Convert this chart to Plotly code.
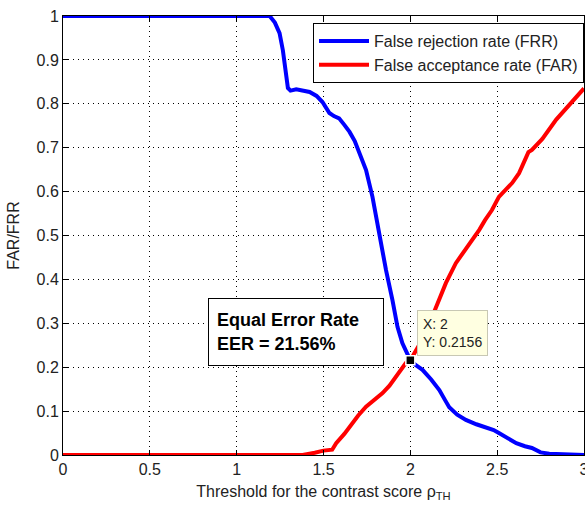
import plotly.graph_objects as go

# False rejection rate (FRR) versus threshold
frr_x = [0, 1.19, 1.22, 1.247, 1.266, 1.285, 1.295, 1.31, 1.343, 1.42, 1.46, 1.494,
         1.52, 1.534, 1.56, 1.59, 1.62, 1.65, 1.68, 1.707, 1.745, 1.782, 1.822, 1.86,
         1.897, 1.926, 1.954, 1.975, 2.0, 2.03, 2.07, 2.12, 2.167, 2.2, 2.224, 2.27,
         2.32, 2.38, 2.43, 2.48, 2.51, 2.56, 2.61, 2.66, 2.70, 2.75, 2.8, 3.0]
frr_y = [1, 1, 0.985, 0.961, 0.922, 0.87, 0.836, 0.83, 0.833, 0.827, 0.818, 0.804,
         0.79, 0.779, 0.772, 0.767, 0.752, 0.736, 0.715, 0.688, 0.649, 0.588, 0.497, 0.421,
         0.353, 0.292, 0.255, 0.235, 0.2156, 0.205, 0.194, 0.172, 0.148, 0.125, 0.109, 0.092,
         0.08, 0.07, 0.064, 0.057, 0.05, 0.038, 0.027, 0.02, 0.016, 0.006, 0.003, 0.0]

# False acceptance rate (FAR) versus threshold
far_x = [0, 1.38, 1.45, 1.5, 1.55, 1.573, 1.62, 1.667, 1.70, 1.745, 1.78, 1.84, 1.88,
         1.918, 1.975, 2.0, 2.05, 2.1, 2.147, 2.205, 2.262, 2.30, 2.34, 2.397, 2.43, 2.47,
         2.51, 2.55, 2.587, 2.626, 2.68, 2.70, 2.76, 2.84, 2.92, 3.0]
far_y = [0, 0, 0.005, 0.01, 0.012, 0.027, 0.048, 0.073, 0.09, 0.11, 0.122, 0.141, 0.158,
         0.178, 0.21, 0.2156, 0.25, 0.29, 0.338, 0.392, 0.437, 0.458, 0.483, 0.513, 0.535, 0.558,
         0.588, 0.603, 0.62, 0.642, 0.69, 0.695, 0.72, 0.764, 0.80, 0.835]

# Equal error rate point
eer_x = 2.0
eer_y = 0.2156

FONT = "Liberation Sans, Arial, sans-serif"

fig = go.Figure()
fig.add_trace(go.Scatter(x=frr_x, y=frr_y, mode="lines",
                         line=dict(color="#0000ff", width=4),
                         name="False rejection rate (FRR)"))
fig.add_trace(go.Scatter(x=far_x, y=far_y, mode="lines",
                         line=dict(color="#ff0000", width=4),
                         name="False acceptance rate (FAR)"))
fig.add_trace(go.Scatter(x=[eer_x], y=[eer_y], mode="markers",
                         marker=dict(symbol="square", size=9, color="black",
                                     line=dict(color="white", width=1.5)),
                         showlegend=False, cliponaxis=False))

# data tip next to the EER point
fig.add_annotation(x=eer_x, y=eer_y, xref="x", yref="y",
                   text=f"X: {eer_x:g}<br>Y: {eer_y:.4f}",
                   showarrow=False, xanchor="left", yanchor="bottom",
                   xshift=7, yshift=4, align="left",
                   font=dict(family=FONT, size=14, color="#222"),
                   bgcolor="#ffffe1", bordercolor="#c8c8b4", borderwidth=1, borderpad=5)

# boxed EER label
fig.add_annotation(x=1.339, y=0.2795, xref="x", yref="y",
                   text=f"<b>Equal Error Rate<br>EER = {eer_y*100:.2f}%</b>",
                   showarrow=False, align="left", width=158, height=50,
                   font=dict(family=FONT, size=18, color="black"),
                   bgcolor="white", bordercolor="black", borderwidth=1, borderpad=8)

axis_common = dict(showline=True, linecolor="black", linewidth=1, mirror="ticks",
                   ticks="inside", ticklen=5, tickcolor="black",
                   showgrid=True, gridcolor="black", gridwidth=1, griddash="1px,4px",
                   zeroline=False, ticklabeloverflow="allow",
                   tickfont=dict(family=FONT, size=16, color="#222"))

fig.update_xaxes(range=[0, 3], dtick=0.5, tick0=0,
                 title=dict(text="Threshold for the contrast score ρ<sub>TH</sub>",
                            font=dict(family=FONT, size=16, color="#222"), standoff=8),
                 **axis_common)
fig.update_yaxes(range=[0, 1], dtick=0.1, tick0=0,
                 title=dict(text="FAR/FRR", font=dict(family=FONT, size=16, color="#222"),
                            standoff=12),
                 **axis_common)

fig.update_layout(width=585, height=506,
                  margin=dict(l=63, r=1, t=16, b=51, autoexpand=False),
                  paper_bgcolor="white", plot_bgcolor="white",
                  font=dict(family=FONT),
                  legend=dict(x=1, y=0.984, xanchor="right", yanchor="top",
                              bgcolor="white", bordercolor="black", borderwidth=1,
                              itemwidth=50,
                              font=dict(family=FONT, size=16, color="#222"),
                              tracegroupgap=0))

fig.write_html("out.html")
